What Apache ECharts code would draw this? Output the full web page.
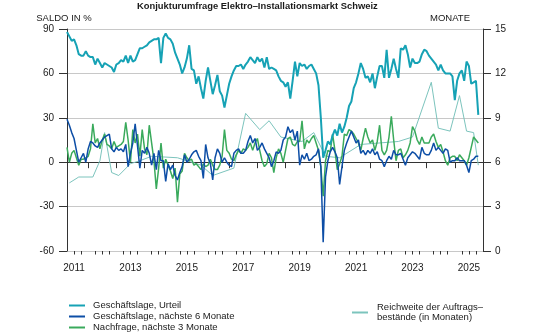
<!DOCTYPE html>
<html>
<head>
<meta charset="utf-8">
<script src="https://cdn.jsdelivr.net/npm/echarts@6/dist/echarts.min.js"></script>
<style>
  html, body { margin: 0; padding: 0; background: #fff; }
  #chart { width: 560px; height: 336px; }
</style>
</head>
<body>
<div id="chart"></div>
<script>
// Monthly survey balances (%), April 2011 – November 2025.
// Months are counted from January 2011 (0 = Jan 2011).
const startMonth = 3;

const urteil = [
  88, 85, 82, 83, 79, 73, 72, 72, 75,                 // 2011
  72, 71, 71, 66, 70, 67, 64, 67, 66, 65, 64, 61,     // 2012
  66, 67, 69, 68, 72, 67, 72, 68, 69, 73, 77, 77,     // 2013
  78, 79, 81, 82, 83, 83, 84, 67, 84, 87, 84, 83,     // 2014
  80, 74, 70, 66, 60, 64, 70, 79, 63, 62, 53, 58,     // 2015
  50, 43, 55, 64, 55, 46, 52, 59, 48, 45, 37, 45,     // 2016
  53, 58, 62, 65, 65, 66, 63, 66, 68, 71, 69, 67,     // 2017
  71, 68, 70, 64, 71, 63, 64, 63, 62, 58, 55, 54,     // 2018
  51, 54, 43, 55, 68, 58, 67, 65, 66, 63, 65, 66,     // 2019
  63, 60, 52, 30, 3, 8, 14, 12, 18, 22, 18, 26,       // 2020
  20, 24, 30, 38, 41, 50, 54, 60, 67, 63, 57, 58,     // 2021
  54, 60, 50, 58, 65, 65, 57, 76, 57, 63, 70, 63,     // 2022
  57, 77, 76, 79, 73, 64, 70, 67, 67, 68, 73, 76,     // 2023
  75, 72, 70, 68, 66, 62, 66, 62, 60, 60, 60, 58,     // 2024
  42, 55, 60, 62, 55, 68, 65, 53, 54, 55, 32          // 2025
];

const monate6 = [
  29, 25, 20, 16, 8, 0, 3, 6, 0,                      // 2011
  9, 14, 13, 11, 10, 13, 15, 17, 18, 19, 9, 7,        // 2012
  10, 8, 9, 7, 12, -3, 6, 13, 26, 11, -4, 8,          // 2013
  6, 10, 6, -2, 6, -5, 8, 1, 1, -13, -1, -5,          // 2014
  -2, -9, -12, -7, -3, 5, 0, 2, 5, 7, 8, 4,           // 2015
  1, -11, 12, 3, -1, -12, 3, 9, 6, 0, 3, 0,           // 2016
  -2, -3, 6, 8, 9, 6, 6, 8, 14, 18, 13, 16,           // 2017
  8, 10, 13, 9, 6, 3, -3, 1, 7, 6, 8, 15,             // 2018
  17, 24, 20, 22, 15, 21, -2, 5, 2, 6, 1, 2,          // 2019
  4, 5, 9, -3, -54, -10, 1, 7, 10, 7, 3, -15,         // 2020
  -3, 8, 13, 17, 21, 17, 13, 15, 6, 8, 5, 8,          // 2021
  6, 9, 5, 7, 2, 1, -3, 1, 4, 2, 8, 5,                // 2022
  5, 6, 2, -2, 3, 5, 7, 6, 4, 2, 10, 6,               // 2023
  5, 5, 8, 13, 8, 10, 8, 6, 9, 8, 0, 1,               // 2024
  1, 3, 1, 1, 1, -2, -7, 1, 2, 4, 4                   // 2025
];

const nachfrage3 = [
  10, 0, 6, 8, 3, -2, 2, 2, 3,                        // 2011
  4, 9, 26, 13, 16, 9, 15, 19, 12, 11, 9, 14,         // 2012
  10, 11, 12, 14, 27, 15, 0, 22, 13, 19, 4, 22,       // 2013
  9, 5, 25, 13, 1, -18, -4, 13, -4, 2, -2, -6,        // 2014
  -11, -4, -27, -8, -6, 6, 3, 1, 2, -2, -1, -3,       // 2015
  -5, -1, -3, -2, 2, -2, -5, -5, -2, 4, 22, 8,        // 2016
  6, 2, 1, 5, 8, 6, 9, 8, 10, 13, 8, 13,              // 2017
  16, 8, 1, -3, -1, 6, 3, -7, 3, 9, 6, 0,             // 2018
  8, 16, 17, 12, 11, 14, 14, 28, 9, 15, 13, 16,       // 2019
  18, 13, 8, -3, -23, 1, 8, 7, 19, 8, -5, -1,         // 2020
  4, 19, 18, 22, 21, 19, 16, 13, 8, 16, 23, 17,       // 2021
  13, 15, 8, 14, 25, 8, 5, 8, 17, 31, 15, 1,          // 2022
  8, 9, 3, 5, 8, 13, 24, 21, 15, 12, 17, 13,          // 2023
  13, 13, 17, 19, 14, 10, 12, 7, 1, -2, 3, 4,         // 2024
  4, 1, 5, 3, 1, -2, 3, 10, 17, 15, 13                // 2025
];

// Order backlog coverage in months (right axis), sparse survey dates
const reichweiteMonth = [4, 8, 14, 17, 19, 22, 25, 30, 34, 39, 50, 60, 65, 74, 79, 85, 89, 94,
                         103, 108, 113, 119, 128, 144, 150, 158, 161, 166, 170, 173, 176, 178];
const reichweiteValue = [4.6, 5.0, 5.0, 6.1, 8.0, 5.3, 5.1, 5.9, 6.1, 6.4, 6.3, 5.8, 5.1, 5.6, 9.3, 8.2, 8.8, 7.7,
                         7.4, 8.0, 6.4, 6.3, 7.2, 7.4, 7.7, 11.4, 8.3, 8.1, 10.5, 8.1, 8.0, 5.8];

const yearLabels = [2011, 2013, 2015, 2017, 2019, 2021, 2023, 2025];

const names = {
  urteil: 'Geschäftslage, Urteil',
  monate6: 'Geschäftslage, nächste 6 Monate',
  nachfrage3: 'Nachfrage, nächste 3 Monate',
  reichweite: 'Reichweite der Auftragsbestände (in Monaten)'
};

const monthly = arr => arr.map((v, i) => [startMonth + i, v]);
const reichweite = reichweiteMonth.map((m, i) => [m, reichweiteValue[i]]);

const yearStarts = [];
for (let m = 12; m <= 168; m += 12) yearStarts.push(m);
const quarters = [];
for (let m = 6; m < 180; m += 3) if (m % 12 !== 0) quarters.push(m);
const labelPos = yearLabels.map(y => (y - 2011) * 12 + 6);

const FONT = '"Liberation Sans", Arial, Helvetica, sans-serif';
const AXIS = '#333';
const TEXT = '#1a1a1a';

const chart = echarts.init(document.getElementById('chart'), null, { renderer: 'canvas' });
chart.setOption({
  animation: false,
  backgroundColor: '#fff',
  textStyle: { fontFamily: FONT },
  title: {
    text: 'Konjukturumfrage Elektro–Installationsmarkt Schweiz',
    left: 137, top: 2, padding: 0,
    textStyle: { fontFamily: FONT, fontSize: 9.4, fontWeight: 'bold', color: TEXT }
  },
  grid: { left: 67, right: 77, top: 29, bottom: 85 },
  xAxis: [
    {
      type: 'value', min: 3, max: 180, position: 'bottom',
      axisLine: { show: true, lineStyle: { color: AXIS, width: 1 } },
      axisTick: { show: true, customValues: yearStarts, length: 6, lineStyle: { color: AXIS } },
      axisLabel: {
        show: true, customValues: labelPos, margin: 12,
        fontFamily: FONT, fontSize: 10, color: TEXT,
        formatter: v => String(2011 + Math.floor(v / 12))
      },
      splitLine: { show: false }
    },
    {
      type: 'value', min: 3, max: 180, position: 'bottom', offset: 0,
      axisLine: { show: false },
      axisTick: { show: true, customValues: quarters, length: 3.5, lineStyle: { color: AXIS } },
      axisLabel: { show: false },
      splitLine: { show: false }
    }
  ],
  yAxis: [
    {
      type: 'value', min: -60, max: 90, interval: 30, position: 'left',
      name: 'SALDO IN %', nameLocation: 'end', nameGap: 6,
      nameTextStyle: { fontFamily: FONT, fontSize: 9.5, color: TEXT, align: 'center', padding: [0, 6, 0, 0] },
      axisLine: { show: true, lineStyle: { color: AXIS, width: 1 } },
      axisTick: { show: true, length: 8, lineStyle: { color: AXIS } },
      axisLabel: { margin: 13, fontFamily: FONT, fontSize: 10, color: TEXT },
      splitLine: { show: true, lineStyle: { color: '#c8c8c8', width: 1 } }
    },
    {
      type: 'value', min: 0, max: 15, interval: 3, position: 'right',
      name: 'MONATE', nameLocation: 'end', nameGap: 6,
      nameTextStyle: { fontFamily: FONT, fontSize: 9.5, color: TEXT, align: 'right', padding: [0, 13, 0, 0] },
      axisLine: { show: true, lineStyle: { color: AXIS, width: 1 } },
      axisTick: { show: true, length: 8, lineStyle: { color: AXIS } },
      axisLabel: { margin: 12, fontFamily: FONT, fontSize: 10, color: TEXT },
      splitLine: { show: false }
    }
  ],
  legend: [
    {
      orient: 'vertical', left: 69, top: 300, padding: 0, itemGap: 0,
      itemWidth: 16, itemHeight: 2, icon: 'rect',
      data: [names.urteil, names.monate6, names.nachfrage3],
      textStyle: { fontFamily: FONT, fontSize: 9.5, lineHeight: 11, color: TEXT, padding: [0, 0, 0, 3] }
    },
    {
      orient: 'vertical', left: 352, top: 302, padding: 0, itemGap: 0,
      itemWidth: 16, itemHeight: 2, icon: 'rect',
      data: [names.reichweite],
      formatter: () => 'Reichweite der Auftrags–\nbestände (in Monaten)',
      textStyle: { fontFamily: FONT, fontSize: 9.5, lineHeight: 10.5, color: TEXT, padding: [0, 0, 0, 4] }
    }
  ],
  series: [
    {
      name: names.reichweite, type: 'line', yAxisIndex: 1, data: reichweite,
      showSymbol: false, symbol: 'none', color: '#7cc4bd',
      lineStyle: { width: 1, color: '#7cc4bd' }, z: 1
    },
    {
      name: names.nachfrage3, type: 'line', data: monthly(nachfrage3),
      showSymbol: false, symbol: 'none', color: '#3aaa5c',
      lineStyle: { width: 1.5, color: '#3aaa5c' }, z: 2
    },
    {
      name: names.monate6, type: 'line', data: monthly(monate6),
      showSymbol: false, symbol: 'none', color: '#0d4ea6',
      lineStyle: { width: 1.5, color: '#0d4ea6' }, z: 3
    },
    {
      name: names.urteil, type: 'line', data: monthly(urteil),
      showSymbol: false, symbol: 'none', color: '#16a2b5',
      lineStyle: { width: 2, color: '#16a2b5' }, z: 4
    }
  ]
});
</script>
</body>
</html>
